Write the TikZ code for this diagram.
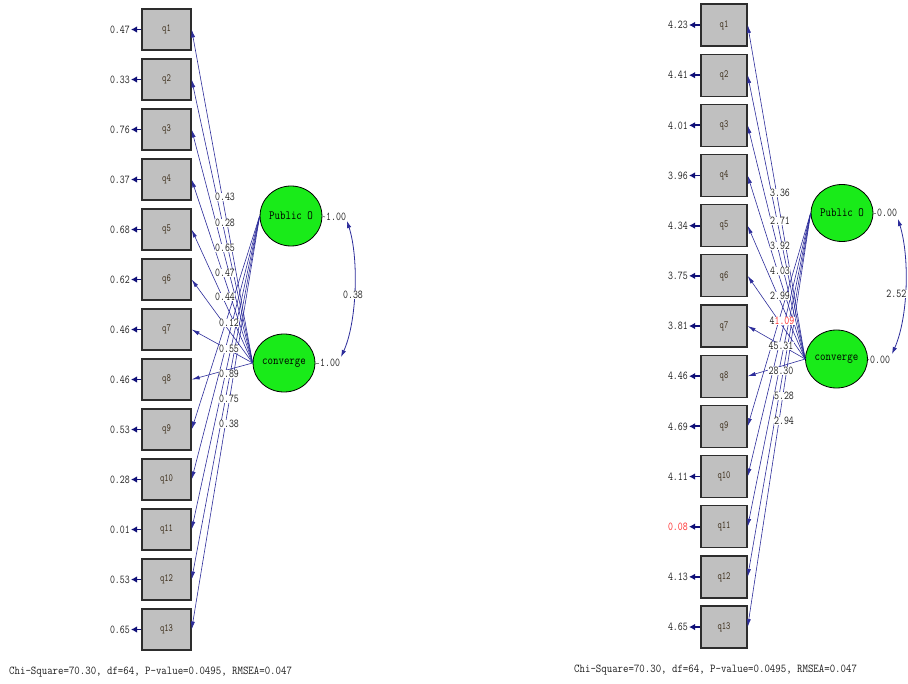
\documentclass[tikz,border=0pt]{standalone}
\usepackage{fontspec}
\usetikzlibrary{shapes.geometric,arrows.meta}
\newfontfamily\lblfont[FakeStretch=0.8]{Latin Modern Mono}
\newfontfamily\qfont[FakeStretch=0.75]{Latin Modern Mono}
\newfontfamily\latfont[FakeStretch=0.85]{Latin Modern Mono}
\newfontfamily\footfont[FakeStretch=0.88]{Latin Modern Mono}
\definecolor{pathblue}{RGB}{45,45,155}
\definecolor{errblue}{RGB}{15,15,120}
\definecolor{boxgray}{RGB}{192,192,192}
\definecolor{boxedge}{RGB}{45,45,45}
\definecolor{latgreen}{RGB}{25,235,25}
\definecolor{redval}{RGB}{255,40,40}
\definecolor{valgray}{RGB}{30,30,30}
\definecolor{qtext}{RGB}{60,45,25}
\tikzset{
  obsbox/.style={draw=boxedge, line width=1.3pt, fill=boxgray, inner sep=0pt,
    font={\qfont\fontsize{11}{11}\selectfont}, text=qtext},
  obsL/.style={obsbox, minimum width=49pt, minimum height=41pt},
  obsR/.style={obsbox, minimum width=46pt, minimum height=42pt},
  latent/.style={ellipse, draw=black, line width=0.8pt, fill=latgreen, inner sep=0pt,
    font={\latfont\fontsize{12.5}{12.5}\selectfont}},
  loading/.style={draw=pathblue, line width=0.6pt, -{Latex[length=8pt,width=4pt]}},
  errarr/.style={draw=errblue, line width=1.8pt, -{Latex[length=6pt,width=6.5pt]}},
  val/.style={font={\lblfont\fontsize{12}{12}\selectfont}, text=valgray, inner sep=1pt},
  pathval/.style={val, fill=white, inner sep=0.6pt},
  varline/.style={draw=gray, line width=0.8pt},
  covarc/.style={draw=pathblue, line width=0.8pt, {Latex[length=7pt,width=4.5pt]}-{Latex[length=7pt,width=4.5pt]}},
  foot/.style={font={\footfont\fontsize{12}{12}\selectfont}, text=valgray, inner sep=0pt}
}
\begin{document}
\begin{tikzpicture}[x=1pt,y=-1pt]
\useasboundingbox (0,0) rectangle (908,684);
\fill[white] (0,0) rectangle (908,684);

% ---------- left panel ----------
\node[latent, minimum width=48pt, minimum height=60pt] (LPO) at (291,216) {Public O};
\node[latent, minimum width=48pt, minimum height=58pt] (LCV) at (284,363) {converge};
\foreach \i/\e in {1/0.47,2/0.33,3/0.76,4/0.37,5/0.68,6/0.62,7/0.46,8/0.46,9/0.53,10/0.28,11/0.01,12/0.53,13/0.65} {
  \node[obsL] (L\i) at (166.5,{29.5+50*(\i-1)}) {q\i};
  \node[val, anchor=east] (Le\i) at (131,{29.5+50*(\i-1)}) {\e};
  \draw[errarr] (L\i.west) -- (Le\i.east);
}
\foreach \i in {1,...,8} { \draw[loading] (LCV.west) -- (L\i.east); }
\foreach \i in {9,...,13} { \draw[loading] (LPO.west) -- (L\i.east); }
\foreach \v/\x/\y [count=\k] in {0.43/225/197,0.28/225/223,0.65/225/248,0.47/225/273,0.44/225/297,0.12/229/323,0.55/229/349,0.89/229/374,0.75/229/399,0.38/229/424} {
  \node[pathval] (Lp\k) at (\x,\y) {\v};
}
\node[val, anchor=west] (LPOv) at (325,217) {1.00};
\draw[varline] (LPO.east) -- (LPOv.west);
\node[val, anchor=west] (LCVv) at (319,363) {1.00};
\draw[varline] (LCV.east) -- (LCVv.west);
\coordinate (LcA) at (347,221);
\coordinate (LcB) at (341,357);
\draw[covarc] (LcA) .. controls (359,258) and (357,322) .. (LcB);
\node[pathval] (Lcov) at (353,295) {0.38};

% ---------- right panel ----------
\node[latent, minimum width=42pt, minimum height=57pt] (RPO) at (842,213) {Public O};
\node[latent, minimum width=45pt, minimum height=58pt] (RCV) at (836.5,359) {converge};
\foreach \i/\e in {1/4.23,2/4.41,3/4.01,4/3.96,5/4.34,6/3.75,7/3.81,8/4.46,9/4.69,10/4.11,11/{\textcolor{redval}{0.08}},12/4.13,13/4.65} {
  \node[obsR] (R\i) at (724,{25+50.17*(\i-1)}) {q\i};
  \node[val, anchor=east] (Re\i) at (689,{25+50.17*(\i-1)}) {\e};
  \draw[errarr] (R\i.west) -- (Re\i.east);
}
\foreach \i in {1,...,8} { \draw[loading] (RCV.west) -- (R\i.east); }
\foreach \i in {9,...,13} { \draw[loading] (RPO.west) -- (R\i.east); }
\foreach \v/\x/\y [count=\k] in {3.36/780/193,2.71/780/221,3.92/780/246,4.03/780/271,2.99/780/296,{4\textcolor{redval}{1.09}}/782/321,45.31/781/346,28.30/781/371,5.28/784/396,2.94/784/421} {
  \node[pathval] (Rp\k) at (\x,\y) {\v};
}
\node[val, anchor=west] (RPOv) at (876,213) {0.00};
\draw[varline] (RPO.east) -- (RPOv.west);
\node[val, anchor=west] (RCVv) at (869,360) {0.00};
\draw[varline] (RCV.east) -- (RCVv.west);
\coordinate (RcA) at (898,219);
\coordinate (RcB) at (892,354);
\draw[covarc] (RcA) .. controls (910,258) and (908,318) .. (RcB);
\node[pathval, anchor=east] (Rcov) at (907,294) {2.52};

% ---------- footers ----------
\node[foot, anchor=west] (Lfoot) at (9,672) {Chi-Square=70.30, df=64, P-value=0.0495, RMSEA=0.047};
\node[foot, anchor=west] (Rfoot) at (574,670) {Chi-Square=70.30, df=64, P-value=0.0495, RMSEA=0.047};
\end{tikzpicture}
\end{document}
